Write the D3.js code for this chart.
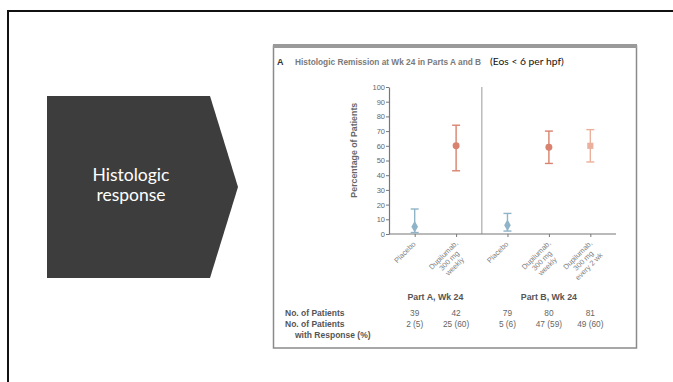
<!DOCTYPE html>
<html><head><meta charset="utf-8">
<script src="https://cdn.jsdelivr.net/npm/d3@7"></script>
<style>body{margin:0;background:#fff}svg{display:block}</style>
</head><body>
<svg id="c" width="673" height="382"></svg>
<script>
// ---- data ----
const groups = ["Part A, Wk 24", "Part B, Wk 24"];
const categoryGroup = ["Part A, Wk 24", "Part A, Wk 24", "Part B, Wk 24", "Part B, Wk 24", "Part B, Wk 24"];
const categoryLines = [["Placebo"], ["Dupilumab,", "300 mg", "weekly"], ["Placebo"], ["Dupilumab,", "300 mg", "weekly"], ["Dupilumab,", "300 mg", "every 2 wk"]];
const pctValues = [5, 60, 6, 59, 60];
const ciLower = [1, 43, 2, 48, 49];
const ciUpper = [17, 74, 14, 70, 71];
const markerShapes = ["diamond", "circle", "diamond", "circle", "square"];
const markerColors = ["#8fb3c8", "#d9826f", "#8fb3c8", "#d9826f", "#ebb09c"];
const nPatients = ["39", "42", "79", "80", "81"];
const nResponse = ["2 (5)", "25 (60)", "5 (6)", "47 (59)", "49 (60)"];
const yTicks = [0, 10, 20, 30, 40, 50, 60, 70, 80, 90, 100];
const slideLabel = ["Histologic", "response"];
const chartTitle = "Histologic Remission at Wk 24 in Parts A and B";
const chartSubtitle = "(Eos < 6 per hpf)";

const svg = d3.select("#c");
const chartFont = "'Liberation Sans', Arial, sans-serif";

// slide frame
svg.append("path").attr("d", "M8,382V11H673").attr("fill", "none").attr("stroke", "#111").attr("stroke-width", 2);

// pentagon
svg.append("path").attr("d", "M47,96H210L238,187L210,278H47Z").attr("fill", "#3d3d3d");
svg.append("text").attr("y", 181).attr("text-anchor", "middle")
  .attr("font-family", "Lato, 'Open Sans', sans-serif").attr("font-size", 17.5).attr("fill", "#fff")
  .selectAll("tspan").data(slideLabel).join("tspan")
  .attr("x", 131).attr("dy", (d, i) => i ? 20 : 0).text(d => d);

// image box
svg.append("rect").attr("x", 273.5).attr("y", 46).attr("width", 363).attr("height", 302)
  .attr("fill", "#fff").attr("stroke", "#8a8a8a").attr("stroke-width", 1.5);
svg.append("line").attr("x1", 273).attr("x2", 637).attr("y1", 46).attr("y2", 46)
  .attr("stroke", "#9a9a9a").attr("stroke-width", 4);

// title
const t = svg.append("text").attr("x", 277).attr("y", 65).attr("font-family", chartFont);
t.append("tspan").attr("font-weight", "bold").attr("font-size", 9).attr("fill", "#333").text("A");
t.append("tspan").attr("x", 295).attr("font-weight", "bold").attr("font-size", 8.3).attr("fill", "#7a7a7a").text(chartTitle);
t.append("tspan").attr("x", 490).attr("font-family", "Lato, sans-serif").attr("font-size", 10.3).attr("fill", "#111").text(chartSubtitle);

// scales
const y = d3.scaleLinear().domain([0, 100]).range([234, 87]);
const xLeft = 389, xRight = 616;
const pad = 0.62;
const counts = groups.map(g => categoryGroup.filter(c => c === g).length);
const widths = counts.map(n => n - 1 + 2 * pad);
const outer = d3.scaleLinear().domain([0, d3.sum(widths)]).range([xLeft, xRight]);
const starts = d3.cumsum([0, ...widths]);
const inner = groups.map((g, gi) => d3.scalePoint()
  .domain(d3.range(counts[gi]))
  .range([outer(starts[gi]), outer(starts[gi + 1])]).padding(pad));
const xPos = categoryGroup.map((g, i) => {
  const gi = groups.indexOf(g);
  const k = categoryGroup.slice(0, i).filter(c => c === g).length;
  return inner[gi](k);
});

const axisColor = "#777";
// y axis
const ya = svg.append("g").attr("transform", `translate(${xLeft},0)`)
  .call(d3.axisLeft(y).tickValues(yTicks).tickSize(3).tickSizeOuter(0));
ya.select(".domain").attr("stroke", axisColor).attr("stroke-width", 1.2);
ya.selectAll(".tick line").attr("stroke", axisColor);
ya.selectAll(".tick text").attr("font-family", chartFont).attr("font-size", 7.5).attr("fill", "#666").attr("x", -4);

svg.append("text").attr("transform", `translate(357,${y(57)}) rotate(-90)`).attr("text-anchor", "middle")
  .attr("font-family", chartFont).attr("font-size", 8.8).attr("font-weight", "bold").attr("fill", "#666")
  .text("Percentage of Patients");

// group separator
svg.append("line").attr("x1", outer(starts[1])).attr("x2", outer(starts[1]))
  .attr("y1", y(100)).attr("y2", y(0)).attr("stroke", "#bbb").attr("stroke-width", 1.5);

// x axis
svg.append("line").attr("x1", xLeft).attr("x2", xRight).attr("y1", y(0)).attr("y2", y(0))
  .attr("stroke", axisColor).attr("stroke-width", 1.2);
groups.forEach((g, gi) => {
  const ax = svg.append("g").attr("transform", `translate(0,${y(0)})`)
    .call(d3.axisBottom(inner[gi]).tickSize(3).tickSizeOuter(0).tickFormat(""));
  ax.select(".domain").remove();
  ax.selectAll(".tick line").attr("stroke", axisColor);
});

// rotated category labels (multi-line, centred)
xPos.forEach((x, i) => {
  const lines = categoryLines[i];
  const cx = lines.length > 1 ? -21 : -17;
  svg.append("text").attr("transform", `translate(${x},${y(0) + 4}) rotate(-45)`)
    .attr("text-anchor", "middle").attr("font-family", chartFont).attr("font-size", 7.4).attr("fill", "#808080")
    .selectAll("tspan").data(lines).join("tspan")
    .attr("x", cx).attr("y", (d, j) => 3 + j * 8).attr("dy", "0.35em").text(d => d);
});

// error bars & markers
const cap = 4;
xPos.forEach((x, i) => {
  const c = markerColors[i];
  const g = svg.append("g");
  g.append("line").attr("x1", x).attr("x2", x).attr("y1", y(ciLower[i])).attr("y2", y(ciUpper[i])).attr("stroke", c).attr("stroke-width", 1.4);
  [ciLower[i], ciUpper[i]].forEach(v => g.append("line").attr("x1", x - cap).attr("x2", x + cap)
    .attr("y1", y(v)).attr("y2", y(v)).attr("stroke", c).attr("stroke-width", 1.4));
  const sym = { diamond: d3.symbolDiamond, circle: d3.symbolCircle, square: d3.symbolSquare }[markerShapes[i]];
  g.append("path").attr("d", d3.symbol().type(sym).size(38)())
    .attr("transform", `translate(${x},${y(pctValues[i])})`).attr("fill", c);
});

// group labels
groups.forEach((g, gi) => {
  const dom = inner[gi].domain();
  const cx = (inner[gi](dom[0]) + inner[gi](dom[dom.length - 1])) / 2;
  svg.append("text").attr("x", cx).attr("y", 300).attr("text-anchor", "middle")
    .attr("font-family", chartFont).attr("font-size", 8.8).attr("font-weight", "bold").attr("fill", "#555").text(g);
});

// table
const rowLabels = [["No. of Patients", 285, 316], ["No. of Patients", 285, 327], ["with Response (%)", 295, 338]];
rowLabels.forEach(([s, x, yy]) => svg.append("text").attr("x", x).attr("y", yy)
  .attr("font-family", chartFont).attr("font-size", 8.5).attr("font-weight", "bold").attr("fill", "#555").text(s));
[nPatients, nResponse].forEach((row, ri) => {
  row.forEach((s, i) => svg.append("text").attr("x", xPos[i]).attr("y", ri ? 327 : 316).attr("text-anchor", "middle")
    .attr("font-family", chartFont).attr("font-size", 8.3).attr("fill", "#666").text(s));
});
</script>
</body></html>
